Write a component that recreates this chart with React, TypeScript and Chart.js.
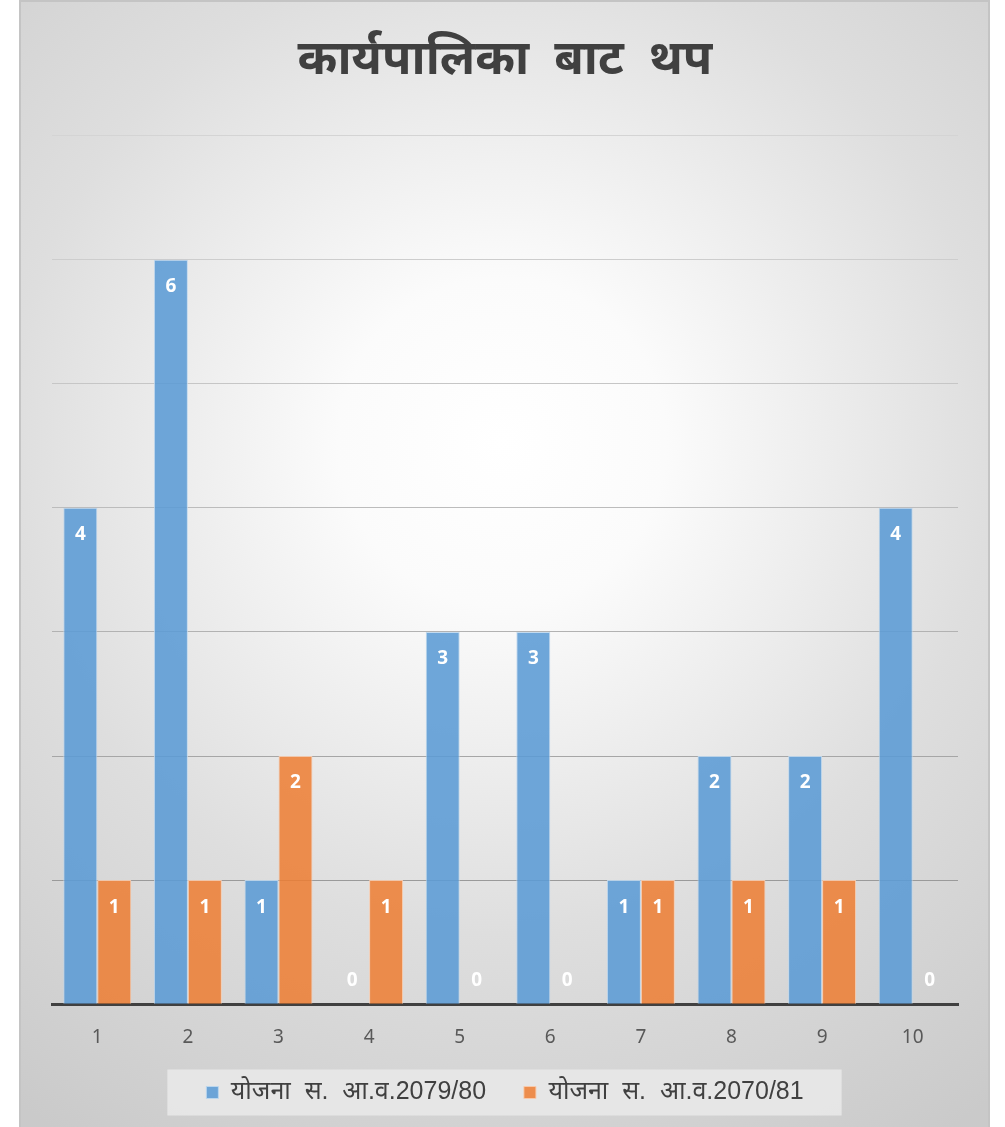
import React, { useEffect, useRef } from "react";
import { Chart, registerables } from "chart.js";

Chart.register(...registerables);

const categories = ["1", "2", "3", "4", "5", "6", "7", "8", "9", "10"];
const series1Name = "योजना  स.  आ.व.2079/80";
const series2Name = "योजना  स.  आ.व.2070/81";
const series1 = [4, 6, 1, 0, 3, 3, 1, 2, 2, 4];
const series2 = [1, 1, 2, 1, 0, 0, 1, 1, 1, 0];
const titleText = "कार्यपालिका  बाट  थप";

const FONT = '"Noto Sans", "Noto Sans Devanagari", "Open Sans", sans-serif';
const LEGEND_FONT = '"Liberation Sans", "Noto Sans Devanagari", Arial, sans-serif';

const gridColors: Record<number, string> = {
  7: "#d4d4d4",
  6: "#cdcdcd",
  5: "#c6c6c6",
  4: "#bcbcbc",
  3: "#b2b2b2",
  2: "#a6a6a6",
  1: "#9a9a9a",
  0: "#9a9a9a",
};

const bgPlugin = {
  id: "bgPlugin",
  beforeDraw(chart: any) {
    const { ctx, width, height } = chart;
    ctx.save();
    const cx = 481, cy = 440;
    const g = ctx.createRadialGradient(cx, cy, 0, cx, cy, 820);
    g.addColorStop(0, "#ffffff");
    g.addColorStop(0.2, "#fbfbfb");
    g.addColorStop(0.6, "#dedede");
    g.addColorStop(1, "#cacaca");
    ctx.fillStyle = g;
    ctx.fillRect(0, 0, width, height);
    const lg = chart.legend;
    if (lg && lg.legendHitBoxes && lg.legendHitBoxes.length) {
      const boxes = lg.legendHitBoxes;
      let minX = Infinity, maxX = -Infinity, minY = Infinity, maxY = -Infinity;
      boxes.forEach((b: any) => {
        minX = Math.min(minX, b.left);
        maxX = Math.max(maxX, b.left + b.width);
        minY = Math.min(minY, b.top);
        maxY = Math.max(maxY, b.top + b.height);
      });
      const cyL = (minY + maxY) / 2;
      ctx.fillStyle = "rgba(232,232,232,0.9)";
      ctx.fillRect(minX - 39, cyL - 23, maxX - minX + 77, 46);
    }
    ctx.restore();
  },
};

const labelPlugin = {
  id: "labelPlugin",
  afterDatasetsDraw(chart: any) {
    const { ctx } = chart;
    ctx.save();
    ctx.fillStyle = "#ffffff";
    ctx.font = `bold 19px ${FONT}`;
    ctx.textAlign = "center";
    ctx.textBaseline = "middle";
    chart.data.datasets.forEach((ds: any, i: number) => {
      const meta = chart.getDatasetMeta(i);
      meta.data.forEach((bar: any, j: number) => {
        const v = ds.data[j];
        const y = v > 0 ? bar.y + 27 : bar.base - 24;
        ctx.fillText(String(v), bar.x, y);
      });
    });
    ctx.restore();
  },
};

export default function App() {
  const ref = useRef<HTMLCanvasElement | null>(null);
  useEffect(() => {
    if (!ref.current) return;
    const chart = new Chart(ref.current, {
      type: "bar",
      data: {
        labels: categories,
        datasets: [
          {
            label: series1Name,
            data: series1,
            backgroundColor: "rgba(91,155,213,0.88)",
            borderColor: "rgba(189,215,238,0.9)",
            borderWidth: 1,
          },
          {
            label: series2Name,
            data: series2,
            backgroundColor: "rgba(237,125,49,0.85)",
            borderColor: "rgba(248,203,173,0.9)",
            borderWidth: 1,
          },
        ],
      },
      options: {
        animation: false,
        responsive: false,
        maintainAspectRatio: false,
        layout: { padding: { left: 31, right: 30, top: 30, bottom: 12 } },
        datasets: { bar: { categoryPercentage: 0.75, barPercentage: 1.0 } },
        scales: {
          x: {
            grid: { display: false },
            border: { display: true, color: "#404040", width: 3 },
            ticks: { color: "#595959", font: { family: FONT, size: 19 }, padding: 14 },
          },
          y: {
            min: 0,
            max: 7,
            ticks: { display: false, stepSize: 1 },
            border: { display: false },
            grid: {
              drawTicks: false,
              color: (c: any) => gridColors[c.tick?.value ?? 0] || "#c0c0c0",
              lineWidth: 1,
            },
          },
        },
        plugins: {
          title: {
            display: true,
            text: titleText,
            color: "#404040",
            font: { family: FONT, size: 48, weight: "bold" },
            padding: { top: 0, bottom: 46 },
          },
          legend: {
            position: "bottom",
            labels: {
              boxWidth: 12,
              boxHeight: 12,
              color: "#404040",
              font: { family: LEGEND_FONT, size: 25 },
              padding: 17,
              generateLabels: (chart: any) => {
                const items = Chart.defaults.plugins.legend.labels.generateLabels(chart);
                return items.map((it: any, i: number) =>
                  i < items.length - 1 ? { ...it, text: it.text + "   " } : it
                );
              },
            },
          },
          tooltip: { enabled: false },
        },
      },
      plugins: [bgPlugin, labelPlugin],
    });
    return () => chart.destroy();
  }, []);
  return (
    <div
      style={{
        position: "absolute",
        left: 19,
        top: 0,
        width: 971,
        height: 1127,
        borderLeft: "2px solid #c4c4c4",
        borderTop: "2px solid #c4c4c4",
        borderRight: "2px solid #c4c4c4",
        boxSizing: "border-box",
        background: "#d0d0d0",
      }}
    >
      <canvas ref={ref} width={967} height={1125} style={{ display: "block" }} />
    </div>
  );
}
